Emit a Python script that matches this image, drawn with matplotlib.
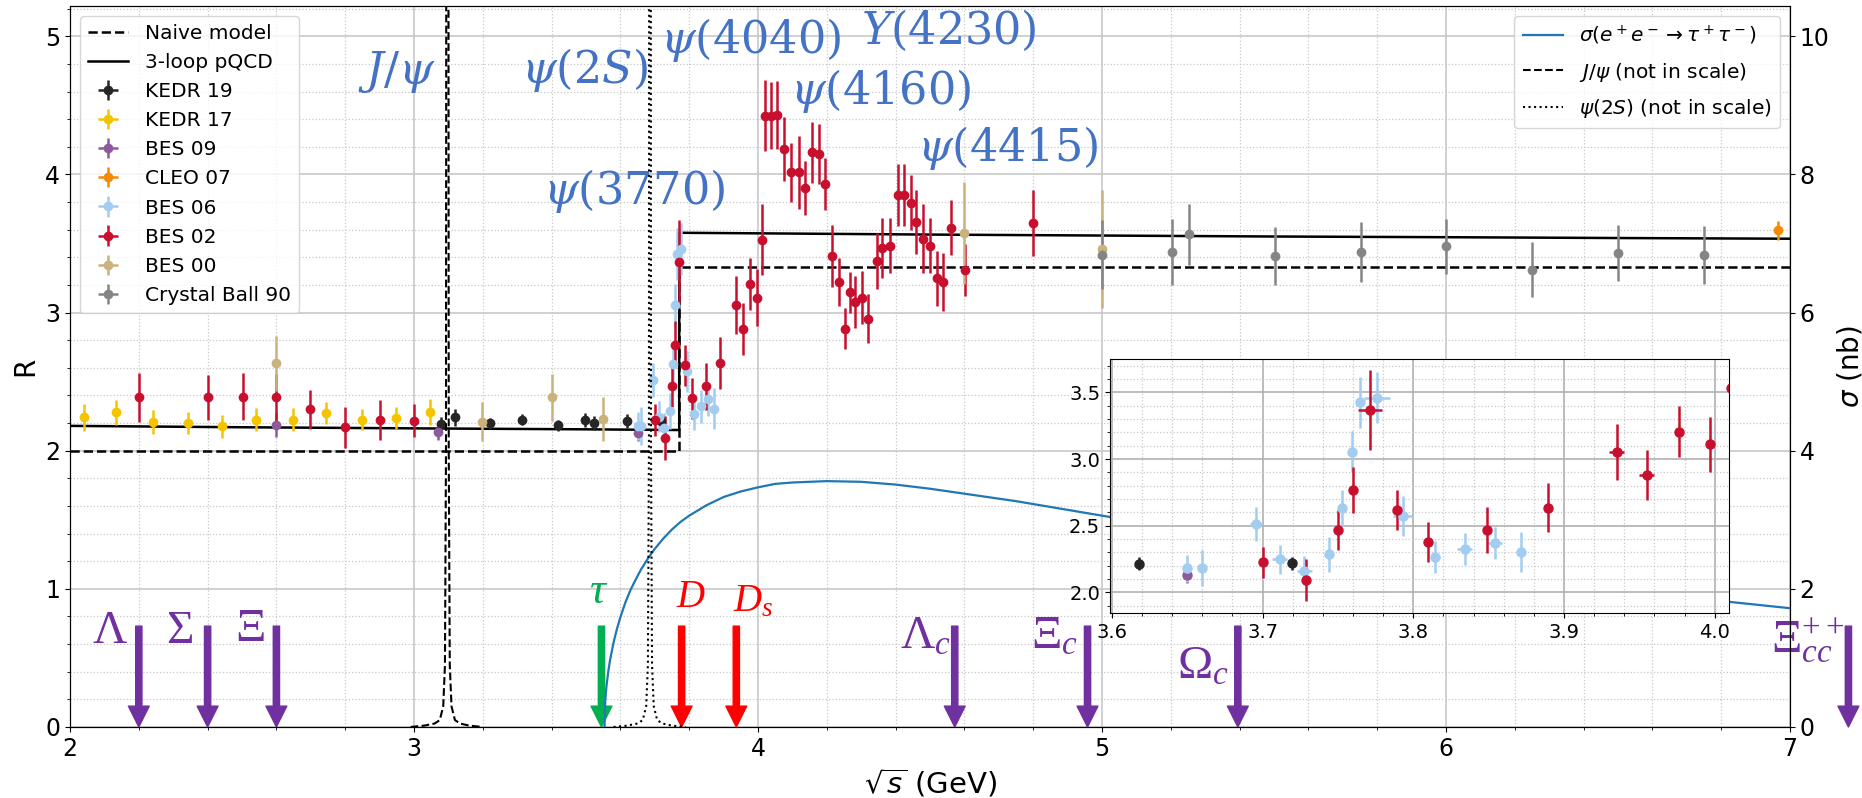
import matplotlib
matplotlib.use('Agg')
import matplotlib.pyplot as plt
from matplotlib.ticker import MultipleLocator

# serif font for the threshold labels
plt.rcParams['mathtext.rm'] = 'Liberation Serif'
plt.rcParams['mathtext.it'] = 'Liberation Serif:italic'
plt.rcParams['mathtext.bf'] = 'Liberation Serif:bold'

# ---------------- data ----------------
kedr19_E = [3.078, 3.12, 3.22, 3.313, 3.42, 3.497, 3.522, 3.618, 3.7195]
kedr19_R = [2.193, 2.241, 2.20, 2.224, 2.186, 2.224, 2.198, 2.215, 2.218]
kedr19_err = [0.05, 0.06, 0.04, 0.04, 0.04, 0.05, 0.05, 0.05, 0.05]

kedr17_E = [2.04, 2.135, 2.241, 2.342, 2.442, 2.541, 2.647, 2.745, 2.849, 2.948, 3.046]
kedr17_R = [2.241, 2.277, 2.205, 2.198, 2.176, 2.224, 2.224, 2.270, 2.224, 2.236, 2.277]
kedr17_err = [0.096, 0.09, 0.087, 0.08, 0.083, 0.083, 0.083, 0.08, 0.076, 0.078, 0.094]

bes09_E = [2.60, 3.07, 3.65]
bes09_R = [2.186, 2.133, 2.13]
bes09_err = [0.085, 0.058, 0.06]

cleo07_E = [6.964]
cleo07_R = [3.595]
cleo07_err = [0.07]

bes06_E = [3.650, 3.660, 3.6957, 3.7115, 3.7275, 3.744, 3.7526, 3.759, 3.7645,
           3.7758, 3.793, 3.8147, 3.834, 3.854, 3.8714]
bes06_R = [2.18, 2.18, 2.5125, 2.2475, 2.1625, 2.285, 2.63, 3.055, 3.425,
           3.46, 2.575, 2.2675, 2.3225, 2.3725, 2.305]
bes06_err = [0.10, 0.135, 0.125, 0.11, 0.11, 0.13, 0.135, 0.155, 0.19,
             0.19, 0.15, 0.12, 0.12, 0.12, 0.15]
bes06_xerr = [0, 0, 0.004, 0.005, 0.005, 0, 0, 0, 0,
              0.0087, 0.0065, 0.003, 0.005, 0.005, 0]

bes02_E = [2.20, 2.40, 2.502, 2.60, 2.698, 2.80, 2.90, 3.00,
           3.70, 3.729, 3.75, 3.76, 3.7714, 3.789, 3.8095, 3.849, 3.8894,
           3.935, 3.955, 3.976, 3.997, 4.011, 4.019, 4.037, 4.056, 4.077,
           4.097, 4.118, 4.137, 4.157, 4.177, 4.195, 4.215, 4.235, 4.253,
           4.268, 4.282, 4.302, 4.321, 4.345, 4.360, 4.385, 4.406, 4.425,
           4.446, 4.459, 4.480, 4.50, 4.519, 4.538, 4.560, 4.601, 4.80]
bes02_R = [2.386, 2.386, 2.39, 2.386, 2.299, 2.169, 2.224, 2.217,
           2.225, 2.0925, 2.4675, 2.7675, 3.3675, 2.6175, 2.38, 2.4675, 2.635,
           3.053, 2.88, 3.206, 3.109, 3.529, 4.427, 4.427, 4.432, 4.184,
           4.015, 4.015, 3.903, 4.16, 4.146, 3.934, 3.408, 3.223, 2.883,
           3.146, 3.078, 3.109, 2.956, 3.376, 3.466, 3.485, 3.85, 3.85,
           3.796, 3.655, 3.534, 3.485, 3.248, 3.223, 3.614, 3.308, 3.65]
bes02_err = [0.18, 0.16, 0.17, 0.17, 0.14, 0.15, 0.145, 0.12,
             0.115, 0.16, 0.15, 0.17, 0.30, 0.15, 0.15, 0.17, 0.185,
             0.21, 0.19, 0.19, 0.206, 0.255, 0.257, 0.243, 0.248, 0.233,
             0.214, 0.267, 0.194, 0.218, 0.216, 0.189, 0.223, 0.172, 0.15,
             0.15, 0.19, 0.194, 0.177, 0.204, 0.218, 0.199, 0.226, 0.226,
             0.199, 0.23, 0.25, 0.20, 0.20, 0.21, 0.20, 0.19, 0.24]
bes02_xerr = [0] * 12 + [0.0078] + [0] * 4 + [0.005, 0.005] + [0] * 34

bes00_E = [2.60, 3.198, 3.40, 3.548, 4.599, 5.0]
bes00_R = [2.634, 2.21, 2.386, 2.23, 3.578, 3.461]
bes00_err = [0.20, 0.14, 0.17, 0.16, 0.37, 0.43]

cb90_E = [5.0, 5.203, 5.252, 5.502, 5.752, 6.0, 6.25, 6.50, 6.749]
cb90_R = [3.42, 3.44, 3.566, 3.41, 3.44, 3.48, 3.31, 3.432, 3.42]
cb90_err = [0.25, 0.238, 0.223, 0.212, 0.215, 0.20, 0.20, 0.20, 0.21]

# theory lines
naive_E = [2.0, 3.771, 3.771, 7.0]
naive_R = [2.0, 2.0, 3.333, 3.333]
pqcd_E = [2.0, 2.5, 3.0, 3.5, 3.771, 3.771, 4.0, 4.5, 5.0, 5.5, 6.0, 6.5, 7.0]
pqcd_R = [2.180, 2.170, 2.162, 2.155, 2.150, 3.578, 3.574, 3.565, 3.558,
          3.551, 3.546, 3.540, 3.535]

# sigma(ee -> tau tau) in nb
tau_E = [3.554, 3.555, 3.556, 3.558, 3.56, 3.565, 3.57, 3.58, 3.59, 3.6, 3.615,
         3.63, 3.645, 3.66, 3.68, 3.7, 3.725, 3.75, 3.775, 3.8, 3.85, 3.9, 3.95,
         4.0, 4.05, 4.1, 4.2, 4.3, 4.4, 4.5, 4.75, 5.0, 5.5, 6.0, 6.5, 7.0]
tau_sigma = [0.0, 0.27, 0.37, 0.51, 0.61, 0.81, 0.97, 1.22, 1.42, 1.59, 1.81,
             1.99, 2.14, 2.28, 2.44, 2.58, 2.73, 2.86, 2.97, 3.06, 3.21, 3.33, 3.41,
             3.47, 3.52, 3.54, 3.56, 3.55, 3.51, 3.45, 3.27, 3.06, 2.65, 2.28, 1.98, 1.72]

# narrow resonances (not in scale)
jpsi_E = [2.99, 3.03, 3.06, 3.075, 3.085, 3.09, 3.093, 3.097, 3.101, 3.104,
          3.109, 3.119, 3.134, 3.16, 3.20]
jpsi_sigma = [0.0, 0.02, 0.05, 0.1, 0.3, 0.9, 4.0, 40.0, 4.0, 0.9, 0.3, 0.1,
              0.05, 0.02, 0.0]
psi2s_E = [3.58, 3.62, 3.65, 3.665, 3.675, 3.68, 3.683, 3.686, 3.689, 3.692,
           3.697, 3.707, 3.722, 3.75, 3.79]
psi2s_sigma = [0.0, 0.02, 0.05, 0.1, 0.3, 0.9, 4.0, 40.0, 4.0, 0.9, 0.3, 0.1,
               0.05, 0.02, 0.0]

# resonance labels
res_labels = [r'$J/\psi$', r'$\psi(2S)$', r'$\psi(4040)$', r'$Y(4230)$',
              r'$\psi(4160)$', r'$\psi(4415)$', r'$\psi(3770)$']
res_x = [2.95, 3.495, 3.978, 4.556, 4.357, 4.725, 3.64]
res_y = [4.74, 4.76, 4.975, 5.045, 4.605, 4.19, 3.88]

# pair-production thresholds (arrows)
thr_labels = [r'$\Lambda$', r'$\Sigma$', r'$\Xi$', r'$\tau$', r'$D$', r'$D_s$',
              r'$\Lambda_c$', r'$\Xi_c$', r'$\Omega_c$', r'$\Xi_{cc}^{++}$']
thr_E = [2.2, 2.4, 2.6, 3.545, 3.778, 3.937, 4.572, 4.958, 5.395, 7.17]
thr_lab_x = [2.117, 2.318, 2.523, 3.538, 3.806, 3.985, 4.487, 4.861, 5.293, 7.052]
thr_lab_y = [0.70, 0.70, 0.71, 0.985, 0.95, 0.915, 0.66, 0.654, 0.44, 0.62]

purple = '#7030A0'
thr_colors = [purple, purple, purple, '#00B050', '#FF0000', '#FF0000',
              purple, purple, purple, purple]
thr_size = [34, 34, 34, 32, 28, 28, 34, 34, 34, 34]

series = [
    ('KEDR 19', kedr19_E, kedr19_R, [0] * len(kedr19_E), kedr19_err, '#262626'),
    ('KEDR 17', kedr17_E, kedr17_R, [0] * len(kedr17_E), kedr17_err, '#F5C400'),
    ('BES 09', bes09_E, bes09_R, [0] * len(bes09_E), bes09_err, '#8E5A9A'),
    ('CLEO 07', cleo07_E, cleo07_R, [0], cleo07_err, '#F58A07'),
    ('BES 06', bes06_E, bes06_R, bes06_xerr, bes06_err, '#A3CDF0'),
    ('BES 02', bes02_E, bes02_R, bes02_xerr, bes02_err, '#C8102E'),
    ('BES 00', bes00_E, bes00_R, [0] * len(bes00_E), bes00_err, '#C9B27C'),
    ('Crystal Ball 90', cb90_E, cb90_R, [0] * len(cb90_E), cb90_err, '#858585'),
]

# ---------------- figure ----------------
fig = plt.figure(figsize=(18.62, 7.98), dpi=100)
ax = fig.add_axes([0.0376, 0.089, 0.9237, 0.9035])

ax.plot(naive_E, naive_R, 'k--', lw=1.8, label='Naive model')
ax.plot(pqcd_E, pqcd_R, 'k-', lw=1.8, label='3-loop pQCD')
for label, E, R, xe, ye, col in series:
    ax.errorbar(E, R, yerr=ye, xerr=xe, fmt='o', color=col, ms=6,
                elinewidth=1.8, capsize=0, label=label)

ax.set_xlim(2, 7)
ax.set_ylim(0, 5.22)
ax.xaxis.set_major_locator(MultipleLocator(1))
ax.xaxis.set_minor_locator(MultipleLocator(0.2))
ax.yaxis.set_major_locator(MultipleLocator(1))
ax.yaxis.set_minor_locator(MultipleLocator(0.2))
ax.grid(which='major', color='#c8c8c8', lw=1.2)
ax.grid(which='minor', color='#c8c8c8', ls=':', lw=0.9)
ax.tick_params(labelsize=17)
ax.set_xlabel(r'$\sqrt{s}$ (GeV)', fontsize=21)
ax.set_ylabel('R', fontsize=20)
ax.legend(loc='upper left', fontsize=14.5, labelspacing=0.5)

# threshold arrows and labels
for lab, e, lx, ly, c, fs in zip(thr_labels, thr_E, thr_lab_x, thr_lab_y,
                                 thr_colors, thr_size):
    ax.annotate('', xy=(e, 0), xytext=(e, 0.73), annotation_clip=False,
                arrowprops=dict(facecolor=c, edgecolor=c, width=4.5,
                                headwidth=15, headlength=15, shrink=0))
    ax.text(lx, ly, lab, color=c, fontsize=fs, ha='center', va='center',
            math_fontfamily='custom', clip_on=False)

for lab, x, y in zip(res_labels, res_x, res_y):
    ax.text(x, y, lab, color='#4472C4', fontsize=32, ha='center', va='center',
            math_fontfamily='dejavuserif')

# right axis: cross sections
ax2 = ax.twinx()
ax2.plot(tau_E, tau_sigma, color='tab:blue', lw=1.6,
         label=r'$\sigma(e^+e^-\to\tau^+\tau^-)$')
ax2.plot(jpsi_E, jpsi_sigma, 'k--', lw=1.5, label=r'$J/\psi$ (not in scale)')
ax2.plot(psi2s_E, psi2s_sigma, 'k:', lw=1.5, label=r'$\psi(2S)$ (not in scale)')
ax2.set_ylim(0, 10.44)
ax2.yaxis.set_major_locator(MultipleLocator(2))
ax2.tick_params(labelsize=17)
ax2.set_ylabel(r'$\sigma$ (nb)', fontsize=20)
ax2.legend(loc='upper right', fontsize=14.5, labelspacing=0.65)

# inset zoom on the charm threshold
axins = fig.add_axes([0.5961, 0.2318, 0.3325, 0.3183])
for label, E, R, xe, ye, col in series:
    axins.errorbar(E, R, yerr=ye, xerr=xe, fmt='o', color=col, ms=6.5,
                   elinewidth=1.8, capsize=0)
axins.set_xlim(3.5987, 4.0095)
axins.set_ylim(1.845, 3.75)
axins.xaxis.set_major_locator(MultipleLocator(0.1))
axins.xaxis.set_minor_locator(MultipleLocator(0.02))
axins.yaxis.set_major_locator(MultipleLocator(0.5))
axins.yaxis.set_minor_locator(MultipleLocator(0.1))
axins.grid(which='major', color='#b0b0b0', lw=1.2)
axins.grid(which='minor', color='#c8c8c8', ls=':', lw=0.9)
axins.tick_params(labelsize=14)

fig.savefig('out.png', dpi=100)
